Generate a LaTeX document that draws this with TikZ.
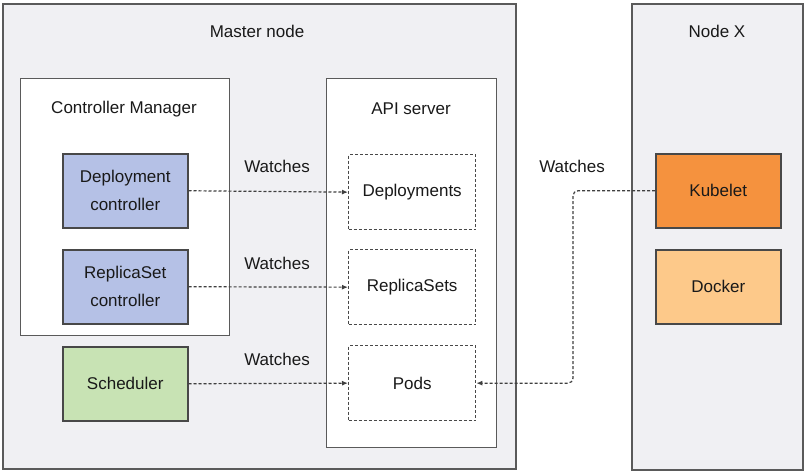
\documentclass[tikz,border=0pt]{standalone}
\usepackage{fontspec}
\setmainfont{Liberation Sans}
\usetikzlibrary{arrows.meta}
\definecolor{panelfill}{RGB}{240,240,243}
\definecolor{bordergray}{RGB}{90,90,90}
\definecolor{ctrlblue}{RGB}{181,193,230}
\definecolor{schedgreen}{RGB}{200,227,180}
\definecolor{kubeorange}{RGB}{245,146,62}
\definecolor{dockerorange}{RGB}{253,201,138}
\definecolor{textgray}{RGB}{25,25,25}
\tikzset{
  panel/.style={draw=bordergray, line width=1.6pt, fill=panelfill, anchor=north west, inner sep=0pt},
  subpanel/.style={draw=bordergray, line width=1.4pt, fill=white, anchor=north west, inner sep=0pt},
  compbox/.style={draw=bordergray!80!black, line width=1.5pt, anchor=north west, minimum width=125pt, minimum height=74pt, inner sep=0pt, align=center, text=textgray, font=\fontsize{17}{28}\selectfont},
  resbox/.style={draw=bordergray!80!black, line width=1.3pt, dash pattern=on 3pt off 2pt, fill=white, anchor=north west, minimum width=127pt, minimum height=75pt, inner sep=0pt, align=center, text=textgray},
  lbl/.style={text=textgray, inner sep=0pt},
  conn/.style={draw=bordergray!70!black, line width=1.2pt, dash pattern=on 3pt off 2pt, -{Latex[length=6pt,width=5pt]}},
}
\begin{document}
\begin{tikzpicture}[x=1pt, y=-1pt, font=\fontsize{17}{20}\selectfont]
\useasboundingbox (0,0) rectangle (804,471);
\fill[white] (0,0) rectangle (804,471);
% panels
\node[panel, minimum width=513pt, minimum height=465pt] (master) at (2,3) {};
\node[lbl] (masterlbl) at (257,31) {Master node};
\node[panel, minimum width=171pt, minimum height=466pt] (nodex) at (631,3) {};
\node[lbl] (nodexlbl) at (717,31) {Node X};
\node[subpanel, minimum width=209pt, minimum height=257pt] (cm) at (20,78) {};
\node[lbl] (cmlbl) at (124,109) {Controller Manager};
\node[subpanel, minimum width=170pt, minimum height=369pt] (api) at (326,78) {};
\node[lbl] (apilbl) at (411,109) {API server};
% components
\node[compbox, fill=ctrlblue] (depc) at (62,153) {Deployment\\controller};
\node[compbox, fill=ctrlblue] (rsc) at (62,249) {ReplicaSet\\controller};
\node[compbox, fill=schedgreen] (sched) at (62,346) {Scheduler};
\node[resbox] (deps) at (348,154) {Deployments};
\node[resbox] (rss) at (348,249) {ReplicaSets};
\node[resbox] (pods) at (348,345) {Pods};
\node[compbox, fill=kubeorange] (kubelet) at (655,153) {Kubelet};
\node[compbox, fill=dockerorange] (docker) at (655,249) {Docker};
% connectors
\draw[conn] (depc.east) -- (deps.west);
\draw[conn] (rsc.east) -- (rss.west);
\draw[conn] (sched.east) -- (pods.west);
\coordinate (bend) at (573,0);
\draw[conn, rounded corners=5pt] (kubelet.west) -- (bend |- kubelet.west) -- (bend |- pods.east) -- (pods.east);
% labels
\node[lbl] (w1) at (277,166) {Watches};
\node[lbl] (w2) at (277,263) {Watches};
\node[lbl] (w3) at (277,359) {Watches};
\node[lbl] (w4) at (572,166) {Watches};
\end{tikzpicture}
\end{document}
